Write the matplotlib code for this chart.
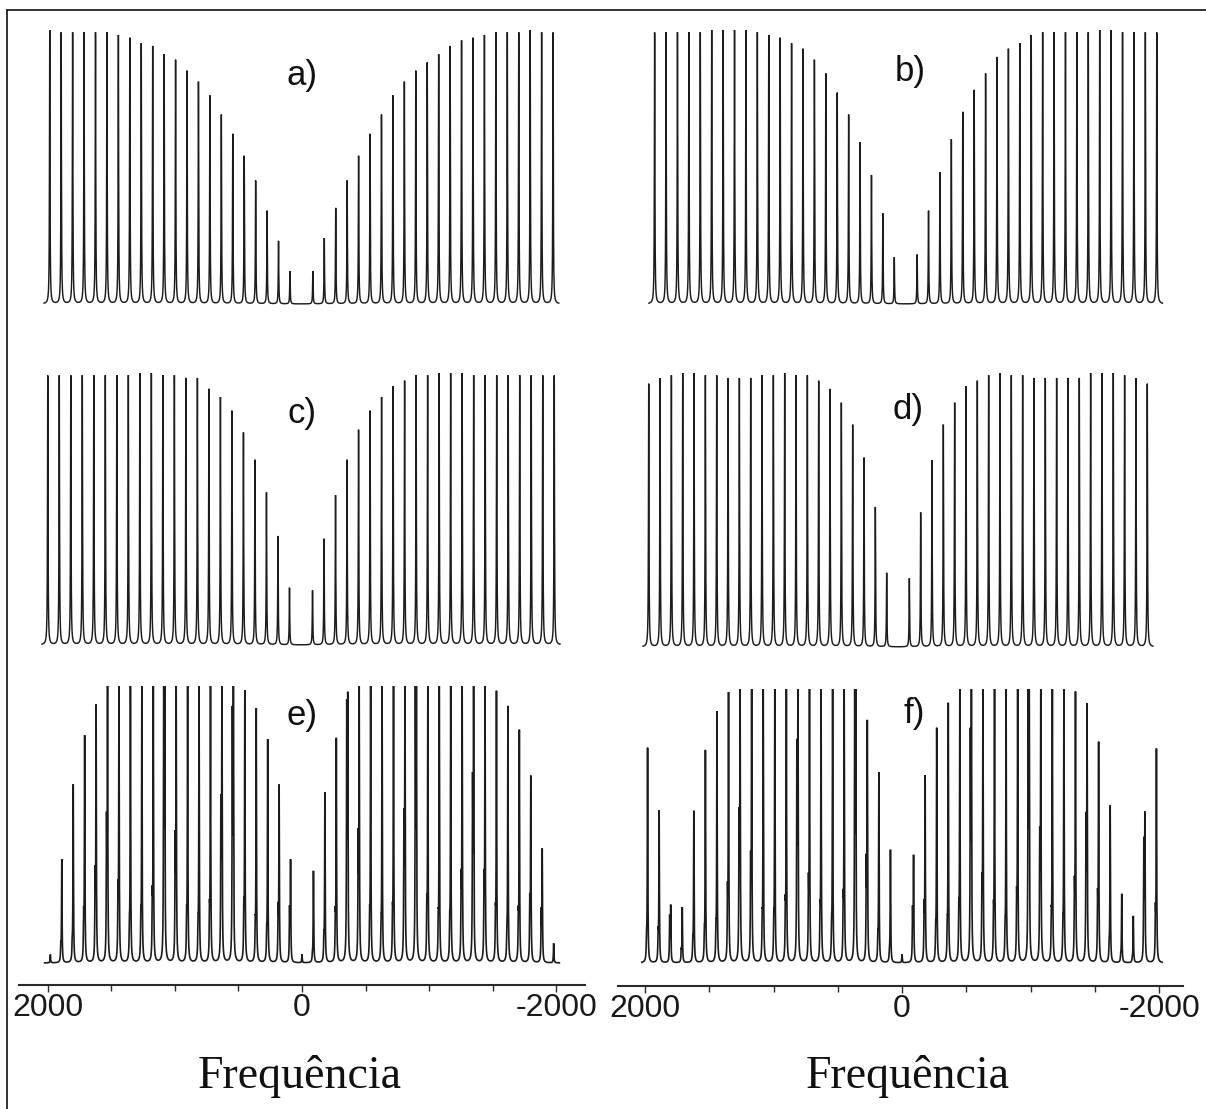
import numpy as np
import matplotlib
matplotlib.use("Agg")
import matplotlib.pyplot as plt
from matplotlib.lines import Line2D
from matplotlib.ticker import FixedLocator, FixedFormatter

W, H, DPI = 1206, 1109, 100

# Sideband spacing (Hz) and sideband orders, listed from +22 down to -22
STEP = 90.0
ORDERS = np.arange(22, -23, -1)
HWHM = 2.3          # Lorentzian half width (Hz)
SPLIT = 8.0         # offset of the second component in e) and f) (Hz)

# Relative sideband intensities, order +22 ... -22 (centre band in the middle)
a_int = [1.00, 0.99, 0.99, 0.99, 0.99, 0.99, 0.98, 0.97, 0.95, 0.94, 0.91,
         0.89, 0.85, 0.81, 0.76, 0.69, 0.62, 0.54, 0.45, 0.34, 0.23, 0.12,
         0.00,
         0.12, 0.24, 0.35, 0.45, 0.54, 0.62, 0.69, 0.76, 0.81, 0.85, 0.88,
         0.91, 0.94, 0.96, 0.97, 0.98, 0.99, 0.99, 0.99, 1.00, 0.99, 0.99]

b_int = [0.99, 0.99, 0.99, 0.99, 0.99, 1.00, 1.00, 1.00, 1.00, 0.99, 0.98,
         0.97, 0.95, 0.93, 0.89, 0.84, 0.77, 0.69, 0.59, 0.47, 0.33, 0.17,
         0.00,
         0.18, 0.34, 0.48, 0.60, 0.70, 0.78, 0.84, 0.90, 0.93, 0.95, 0.98,
         0.99, 0.99, 0.99, 0.99, 0.99, 1.00, 1.00, 0.99, 0.99, 0.99, 0.99]

c_int = [0.99, 0.99, 0.99, 0.99, 0.99, 0.99, 0.99, 0.99, 1.00, 1.00, 0.99,
         0.99, 0.98, 0.98, 0.94, 0.91, 0.86, 0.78, 0.68, 0.56, 0.40, 0.21,
         0.00,
         0.20, 0.39, 0.55, 0.68, 0.79, 0.86, 0.91, 0.95, 0.97, 0.99, 0.99,
         1.00, 1.00, 1.00, 0.99, 0.99, 0.99, 0.99, 0.99, 0.99, 0.99, 0.99]

d_int = [0.96, 0.98, 0.99, 1.00, 1.00, 0.99, 0.99, 0.98, 0.98, 0.98, 0.99,
         0.99, 1.00, 0.99, 0.99, 0.97, 0.94, 0.89, 0.81, 0.69, 0.51, 0.27,
         0.00,
         0.25, 0.49, 0.68, 0.81, 0.89, 0.95, 0.97, 0.99, 1.00, 0.99, 0.99,
         0.98, 0.98, 0.98, 0.98, 0.98, 1.00, 1.00, 1.00, 0.99, 0.98, 0.96]

e_int = [0.03, 0.37, 0.64, 0.81, 0.91, 0.97, 1.00, 1.00, 1.00, 0.99, 0.98,
         0.99, 0.99, 0.99, 1.00, 1.00, 0.99, 0.97, 0.91, 0.80, 0.63, 0.36,
         0.03,
         0.33, 0.61, 0.80, 0.91, 0.97, 0.99, 0.99, 0.99, 0.99, 0.99, 0.99,
         0.99, 0.99, 0.99, 1.00, 0.99, 0.97, 0.92, 0.83, 0.66, 0.40, 0.07]

e_int2 = [0.00, 0.05, 0.05, 0.14, 0.28, 0.47, 0.22, 0.10, 0.13, 0.20, 0.97,
          0.40, 0.13, 0.10, 0.15, 0.53, 0.85, 0.16, 0.10, 0.08, 0.17, 0.18,
          0.00,
          0.02, 0.07, 0.14, 0.88, 0.41, 0.13, 0.10, 0.14, 0.48, 0.96, 0.17,
          0.12, 0.11, 0.26, 0.61, 0.26, 0.14, 0.08, 0.14, 0.20, 0.17, 0.00]

f_int = [0.78, 0.55, 0.20, 0.20, 0.55, 0.77, 0.91, 0.97, 0.99, 1.00, 1.00,
         0.99, 0.99, 0.99, 0.99, 1.00, 1.00, 0.99, 0.95, 0.86, 0.69, 0.41,
         0.03,
         0.38, 0.67, 0.85, 0.94, 0.99, 1.00, 1.00, 0.99, 1.00, 0.99, 0.99,
         1.00, 1.00, 1.00, 0.97, 0.91, 0.79, 0.57, 0.25, 0.17, 0.52, 0.77]

f_int2 = [0.07, 0.09, 0.16, 0.04, 0.06, 0.08, 0.09, 0.22, 0.49, 0.33, 0.12,
          0.12, 0.17, 0.74, 0.25, 0.15, 0.10, 0.19, 0.94, 0.33, 0.07, 0.03,
          0.00,
          0.18, 0.18, 0.09, 0.10, 0.16, 0.78, 0.25, 0.15, 0.09, 0.20, 0.98,
          0.42, 0.13, 0.10, 0.24, 0.48, 0.21, 0.05, 0.02, 0.01, 0.42, 0.16]

labels = ["a)", "b)", "c)", "d)", "e)", "f)"]
tick_values = [2000, 0, -2000]
tick_text = ["2000", "0", "-2000"]
minor_values = [1500, 1000, 500, -500, -1000, -1500]
x_title = "Frequência"

freq = np.arange(2025.0, -2025.0, -0.2)
positions = ORDERS * STEP


def spectrum(amps, shift=0.0):
    amps = np.asarray(amps)[:, None]
    d = freq[None, :] - (positions[:, None] + shift)
    return (amps * HWHM ** 2 / (d ** 2 + HWHM ** 2)).sum(axis=0)


fig = plt.figure(figsize=(W / DPI, H / DPI), dpi=DPI)
fig.patch.set_facecolor("white")


def px_axes(x0, x1, y_top, y_bot):
    return fig.add_axes([x0 / W, 1 - y_bot / H, (x1 - x0) / W, (y_bot - y_top) / H])


LINE = "#1c1c1c"

# panel layout: (zero px, px per Hz, baseline px, full-scale px)
layout = [
    (301.4, 0.1271, 304, 30),
    (905.7, 0.1268, 304, 30),
    (301.0, 0.1279, 645, 373),
    (898.0, 0.1259, 647, 373),
    (302.0, 0.1271, 963, 686),
    (902.0, 0.1285, 963, 689),
]
label_xy = [(302, 76), (910, 72), (302, 413), (908, 410), (302, 716), (914, 714)]
axis_span = {4: (19, 585, 985), 5: (618, 1183, 986)}

curves = [
    spectrum(a_int),
    spectrum(b_int),
    spectrum(c_int),
    spectrum(d_int),
    spectrum(e_int) + spectrum(e_int2, SPLIT),
    spectrum(f_int) + spectrum(f_int2, SPLIT),
]

for i, (zero, s, base, top) in enumerate(layout):
    full = base - top
    if i in axis_span:
        x0, x1, yax = axis_span[i]
        lo = -(yax - base) / full
        ax = px_axes(x0, x1, top, yax)
        ax.set_xlim((zero - x0) / s, -(x1 - zero) / s)
        lw = 1.2
    else:
        lo = -0.05
        ax = px_axes(zero - 2150 * s, zero + 2150 * s, top, base + 0.05 * full)
        ax.set_xlim(2150, -2150)
        lw = 1.05
    ax.set_ylim(lo, 1.0)
    ax.plot(freq, curves[i], color=LINE, lw=lw, solid_joinstyle="miter")
    ax.set_facecolor("none")
    for side in ("top", "left", "right"):
        ax.spines[side].set_visible(False)
    ax.set_yticks([])
    if i in axis_span:
        ax.spines["bottom"].set_linewidth(1.5)
        ax.spines["bottom"].set_color("#2a2a2a")
        ax.xaxis.set_major_locator(FixedLocator(tick_values))
        ax.xaxis.set_major_formatter(FixedFormatter(tick_text))
        ax.xaxis.set_minor_locator(FixedLocator(minor_values))
        ax.tick_params(axis="x", which="major", direction="out", length=5,
                       width=1.0, color="#2a2a2a", pad=1)
        ax.tick_params(axis="x", which="minor", direction="out", length=4,
                       width=1.0, color="#2a2a2a")
        for t in ax.get_xticklabels():
            t.set_fontfamily("Liberation Sans")
            t.set_fontsize(23)
            t.set_color("#1a1a1a")
    else:
        ax.spines["bottom"].set_visible(False)
        ax.set_xticks([])
    lx, ly = label_xy[i]
    fig.text(lx / W, 1 - ly / H, labels[i], fontsize=25, family="Liberation Sans",
             ha="center", va="center", color="#111111")

for cx in (300, 908):
    fig.text(cx / W, 1 - 1088 / H, x_title, fontsize=33, family="Liberation Serif",
             ha="center", va="baseline", color="#111111")

# image frame (top and left edges)
fig.add_artist(Line2D([7 / W, 1.0], [1 - 10 / H, 1 - 10 / H], color="#222222", lw=1.3))
fig.add_artist(Line2D([7 / W, 7 / W], [1 - 10 / H, 0.0], color="#222222", lw=1.3))

fig.savefig("out.png", dpi=DPI, facecolor="white")
